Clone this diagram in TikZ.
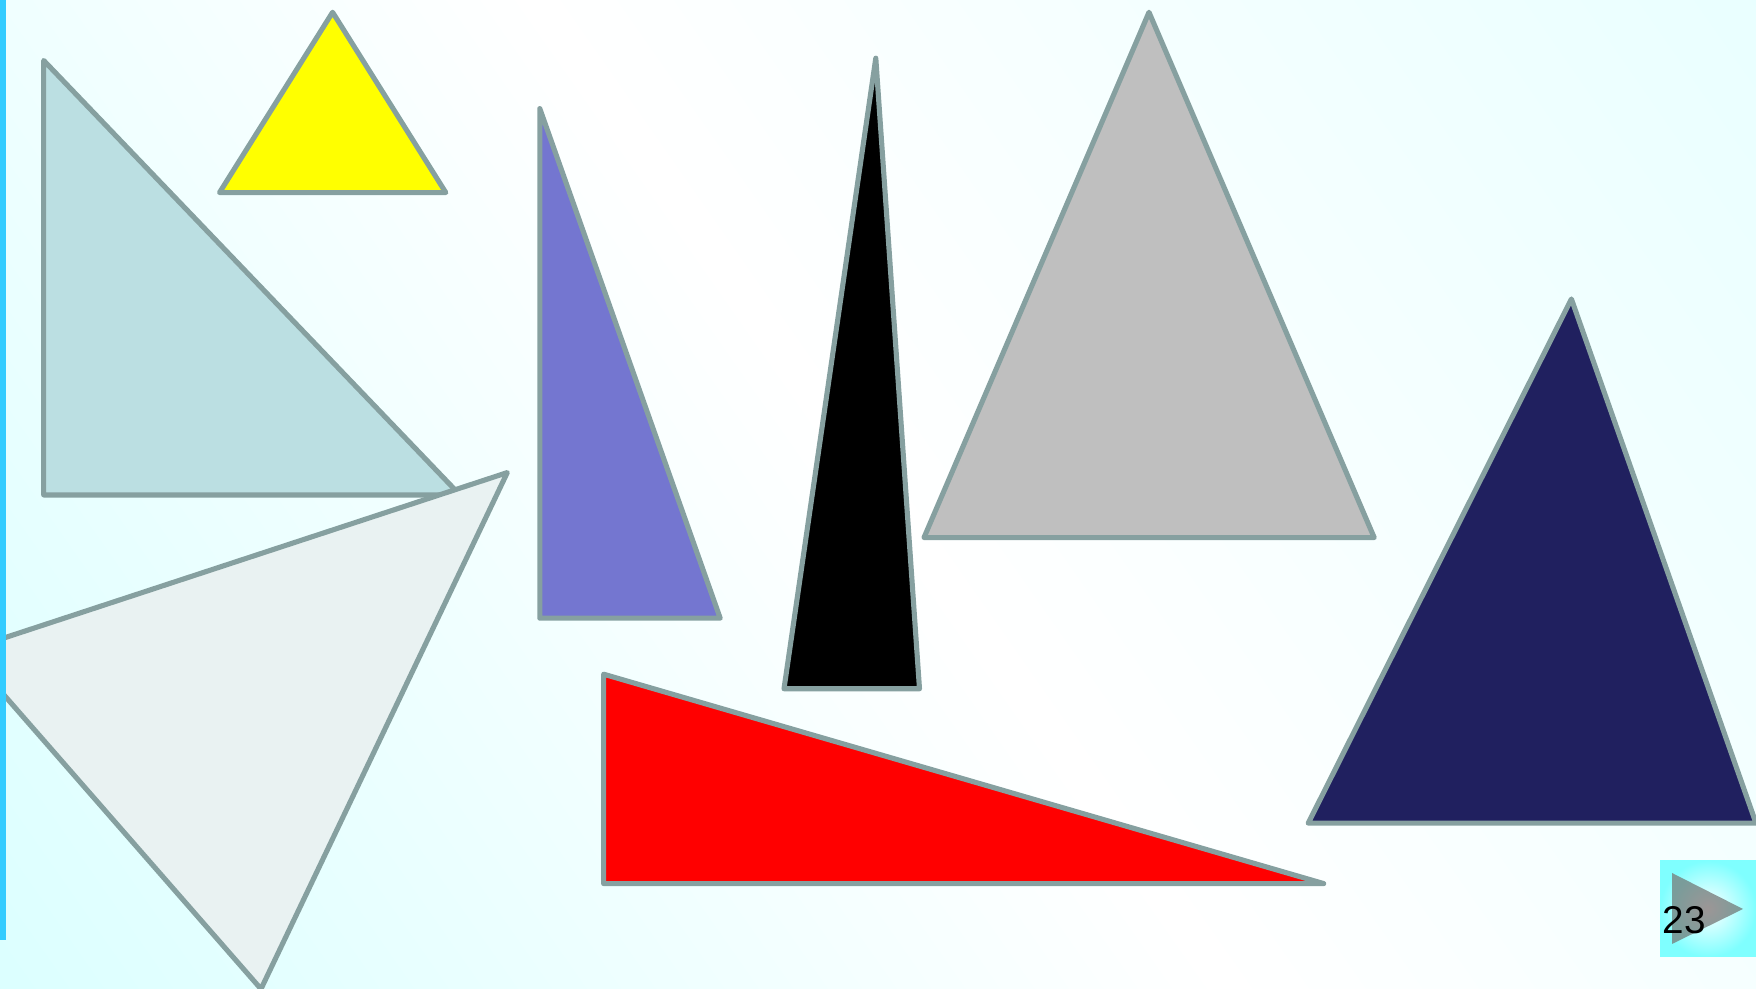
\documentclass[tikz,border=0pt]{standalone}
\usepackage{fontspec}
\setmainfont{Liberation Sans}
\usetikzlibrary{calc}
\definecolor{edgegray}{HTML}{86A0A0}
\definecolor{paleblue}{HTML}{BBDFE2}
\definecolor{pureyellow}{HTML}{FFFF00}
\definecolor{lilac}{HTML}{7476D0}
\definecolor{silver}{HTML}{BFBFBF}
\definecolor{navy}{HTML}{20205F}
\definecolor{offwhite}{HTML}{E9F2F2}
\definecolor{barblue}{HTML}{33CCFF}
\definecolor{bgcyan}{HTML}{CCFFFF}
\definecolor{bgcyantop}{HTML}{E0FFFF}
\definecolor{btncyan}{HTML}{7FFFFF}
\definecolor{btnmid}{HTML}{9C9696}
\definecolor{btnedge}{HTML}{7A9C9A}
\pgfdeclarehorizontalshading{bgshade}{100bp}{color(0bp)=(bgcyan); color(50bp)=(white); color(100bp)=(bgcyantop)}

\begin{document}
\begin{tikzpicture}[x=0.01cm, y=-0.01cm,
    tri/.style={draw=edgegray, line width=1.45pt, line join=round}]
  \useasboundingbox (0,0) rectangle (1756,989);
  \clip (0,0) rectangle (1756,989);

  % Hintergrund
  \shade[shading=bgshade, shading angle=35] (0,0) rectangle (1756,989);

  % Dreiecke
  \draw[tri, fill=paleblue] (43.7,60.5) -- (43.7,495) -- (460,495) -- cycle;
  \draw[tri, fill=pureyellow] (332.6,12.3) -- (219.5,192.6) -- (445.8,192.6) -- cycle;
  \draw[tri, fill=lilac] (539.8,108.6) -- (539.8,618.2) -- (720.2,618.2) -- cycle;
  \draw[tri, fill=black] (875.8,58.2) -- (784,688.8) -- (919.5,688.8) -- cycle;
  \draw[tri, fill=silver] (1149,12.3) -- (924,537.6) -- (1374.2,537.6) -- cycle;
  \draw[tri, fill=navy] (1571.4,299) -- (1308.2,823.2) -- (1756,823.2) -- cycle;
  \draw[tri, fill=offwhite] (507.3,472.6) -- (-34.7,650.7) -- (261,989) -- cycle;
  \draw[tri, fill=red] (603.6,674.2) -- (603.6,883.6) -- (1323.7,883.6) -- cycle;

  % Randleiste
  \fill[barblue] (0,0) rectangle (6,940);

  % Weiter-Knopf
  \shade[inner color=white, outer color=btncyan] (1660,861) rectangle (1756,957);
  \shade[inner color=btnmid, outer color=btnedge]
    (1672,873) -- (1672,944) -- (1743,909) -- cycle;
  \node[font=\fontsize{11}{13}\selectfont, inner sep=0pt] (pagenum) at (1684.5,920) {23};
\end{tikzpicture}
\end{document}
